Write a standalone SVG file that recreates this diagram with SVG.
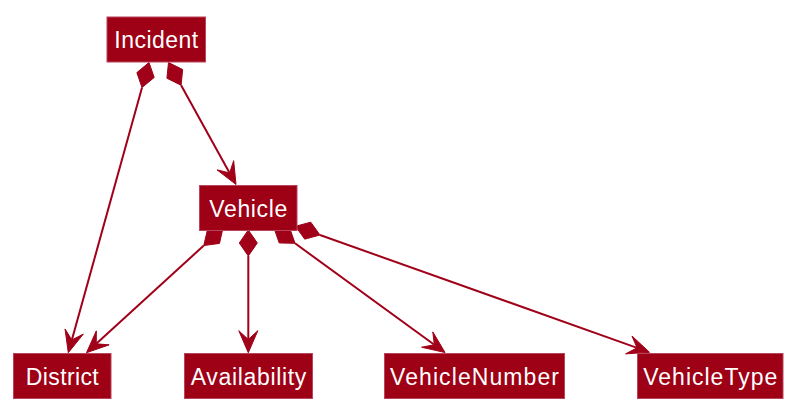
<svg xmlns="http://www.w3.org/2000/svg" width="804" height="419" viewBox="0 0 804 419">
<style>
.box{fill:#9E0015;stroke:#B8455C;stroke-width:1}
.lbl{fill:#FFFFFF;font-family:"Liberation Sans",Arial,sans-serif;font-size:23px;text-anchor:middle}
.ln{fill:none;stroke:#A00018;stroke-width:2}
.hd{fill:#A00018;stroke:#A00018;stroke-width:1;stroke-linejoin:miter}
</style>
<rect width="804" height="419" fill="#FFFFFF"/>
<g id="connectors">
<g id="e-incident-district">
<polygon class="hd" points="149,62.5 154.19,77.44 142.03,87.55 136.85,72.62"/>
<line class="ln" x1="142.03" y1="87.55" x2="71.84" y2="339.98"/>
<polygon class="hd" points="68.3,352.7 83.34,334.05 71.84,339.98 65.04,328.95"/>
</g>
<g id="e-incident-vehicle">
<polygon class="hd" points="168.5,62.5 166.91,78.24 181.09,85.26 182.67,69.52"/>
<line class="ln" x1="181.09" y1="85.26" x2="229.61" y2="172.95"/>
<polygon class="hd" points="236,184.5 217.04,169.85 229.61,172.95 233.66,160.65"/>
</g>
<g id="e-vehicle-district">
<polygon class="hd" points="223,228 219.47,243.41 203.8,245.53 207.33,230.13"/>
<line class="ln" x1="203.8" y1="245.53" x2="96.25" y2="343.8"/>
<polygon class="hd" points="86.5,352.7 109.15,344.87 96.25,343.8 96.33,330.85"/>
</g>
<g id="e-vehicle-availability">
<polygon class="hd" points="248.3,230 257.3,243 248.3,256 239.3,243"/>
<line class="ln" x1="248.3" y1="256" x2="248.3" y2="339.5"/>
<polygon class="hd" points="248.3,352.7 257.8,330.7 248.3,339.5 238.8,330.7"/>
</g>
<g id="e-vehicle-vehiclenumber">
<polygon class="hd" points="274,228 279.21,242.93 295.02,243.31 289.81,228.37"/>
<line class="ln" x1="295.02" y1="243.31" x2="434.33" y2="344.73"/>
<polygon class="hd" points="445,352.5 421.62,347.23 434.33,344.73 432.8,331.87"/>
</g>
<g id="e-vehicle-vehicletype">
<polygon class="hd" points="295.5,226.3 304.73,239.14 319.99,235.02 310.77,222.18"/>
<line class="ln" x1="319.99" y1="235.02" x2="637.06" y2="347.87"/>
<polygon class="hd" points="649.5,352.3 625.58,353.87 637.06,347.87 631.96,335.97"/>
</g>
</g>
<g id="node-incident">
<rect class="box" x="107" y="17" width="98.5" height="45"/>
<text class="lbl" x="156.25" y="48.2" textLength="84" lengthAdjust="spacing">Incident</text>
</g>
<g id="node-vehicle">
<rect class="box" x="199.5" y="185.5" width="97.5" height="45"/>
<text class="lbl" x="248.25" y="216.7" textLength="78" lengthAdjust="spacing">Vehicle</text>
</g>
<g id="node-district">
<rect class="box" x="13.5" y="353.5" width="97.5" height="45"/>
<text class="lbl" x="62.25" y="384.7" textLength="73" lengthAdjust="spacing">District</text>
</g>
<g id="node-availability">
<rect class="box" x="184.5" y="353.5" width="128" height="45"/>
<text class="lbl" x="248.5" y="384.7" textLength="115.7" lengthAdjust="spacing">Availability</text>
</g>
<g id="node-vehiclenumber">
<rect class="box" x="384.5" y="353.5" width="180" height="45"/>
<text class="lbl" x="474.5" y="384.7" textLength="169" lengthAdjust="spacing">VehicleNumber</text>
</g>
<g id="node-vehicletype">
<rect class="box" x="637.5" y="353.5" width="145.5" height="45"/>
<text class="lbl" x="710.25" y="384.7" textLength="134" lengthAdjust="spacing">VehicleType</text>
</g>
</svg>
